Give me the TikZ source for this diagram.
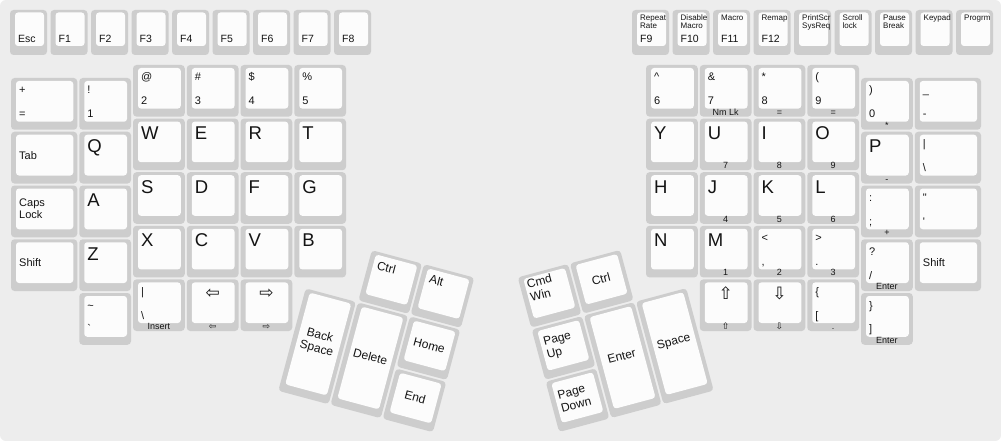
\documentclass[tikz,border=0pt]{standalone}
\usepackage{fontspec}
\setmainfont{Liberation Sans}
\newfontfamily\symf{DejaVu Sans}
\definecolor{bgc}{RGB}{237,237,237}
\definecolor{kg}{RGB}{205,205,205}
\definecolor{kw}{RGB}{252,252,252}
\definecolor{tx}{RGB}{20,20,20}
\newcounter{nc}
\newcommand\nn{\stepcounter{nc}}
% key cap: x y w h
\newcommand\K[4]{%
  \fill[keyg] (#1+1,#2+1) rectangle (#1+#3-1,#2+#4-1);
  \fill[keyw] (#1+6,#2+4) rectangle (#1+#3-5,#2+#4-9);}
% big letter
\newcommand\LB[3]{\nn\node[big,anchor=base west] (t\arabic{nc}) at (#1+9,#2+22) {#3};}
% two small labels: x y h upper lower
\newcommand\LT[5]{\nn\node[sm,anchor=base west] (t\arabic{nc}) at (#1+9,#2+17) {#4};
  \nn\node[sm,anchor=base west] (t\arabic{nc}) at (#1+9,#2+#3-13) {#5};}
% middle label: x y h text
\newcommand\LM[4]{\nn\node[sm,anchor=west,align=left] (t\arabic{nc}) at (#1+9,#2+#3/2-2.5) {#4};}
% sub label: x y w h text
\newcommand\LS[5]{\nn\node[sub,anchor=base] (t\arabic{nc}) at (#1+#3/2,#2+#4-2.5) {#5};}
% arrow glyph on top centre: x y w text
\newcommand\LA[4]{\nn\node[arr] (t\arabic{nc}) at (#1+#3/2,#2+15) {#4};}
% function key
\newcommand\F[1]{\fill[keyg] (#1,10) rectangle (#1+37,55);
  \fill[keyw] (#1+5,12.5) rectangle (#1+34,46);}
\newcommand\FL[2]{\nn\node[fn,anchor=base west] (t\arabic{nc}) at (#1+8,42.5) {#2};}
\newcommand\FS[2]{\nn\node[fs,anchor=north west,align=left] (t\arabic{nc}) at (#1+8,15) {#2};}
\begin{document}
\begin{tikzpicture}[x=1pt,y=-1pt,
  keyg/.style={fill=kg,rounded corners=3.5pt},
  keyw/.style={fill=kw,rounded corners=3pt},
  every node/.style={inner sep=0pt,text=tx},
  big/.style={font=\fontsize{18.5}{20}\selectfont},
  sm/.style={font=\fontsize{11}{11.5}\selectfont},
  fn/.style={font=\fontsize{10.5}{11}\selectfont},
  fs/.style={font=\fontsize{8}{8}\selectfont},
  sub/.style={font=\fontsize{9}{9}\selectfont},
  th/.style={font=\fontsize{12}{13.5}\selectfont},
  arr/.style={font=\symf\fontsize{17}{17}\selectfont}]
\useasboundingbox (0,0) rectangle (1001,441);
\fill[white] (0,0) rectangle (1001,441);
\fill[bgc,rounded corners=6pt] (0,0) rectangle (1001,441);
% ---------- function rows
\F{10}\FL{10}{Esc}
\F{50.5}\FL{50.5}{F1}
\F{91}\FL{91}{F2}
\F{131.5}\FL{131.5}{F3}
\F{172}\FL{172}{F4}
\F{212.5}\FL{212.5}{F5}
\F{253}\FL{253}{F6}
\F{293.5}\FL{293.5}{F7}
\F{334}\FL{334}{F8}
\F{632}\FS{632}{Repeat\\Rate}\FL{632}{F9}
\F{672.5}\FS{672.5}{Disable\\Macro}\FL{672.5}{F10}
\F{713}\FS{713}{Macro}\FL{713}{F11}
\F{753.5}\FS{753.5}{Remap}\FL{753.5}{F12}
\F{794}\FS{794}{PrintScr\\SysReq}
\F{834.5}\FS{834.5}{Scroll\\lock}
\F{875}\FS{875}{Pause\\Break}
\F{915.5}\FS{915.5}{Keypad}
\F{956}\FS{956}{Progrm}
% ---------- left main
\K{10}{77}{68.25}{53.75}\LT{10}{77}{53.75}{+}{=}
\K{10}{130.75}{68.25}{53.75}\LM{10}{130.75}{53.75}{Tab}
\K{10}{184.5}{68.25}{53.75}\LM{10}{184.5}{53.75}{Caps\\Lock}
\K{10}{238.25}{68.25}{53.75}\LM{10}{238.25}{53.75}{Shift}
\K{78.25}{77}{53.75}{53.75}\LT{78.25}{77}{53.75}{!}{1}
\K{78.25}{130.75}{53.75}{53.75}\LB{78.25}{130.75}{Q}
\K{78.25}{184.5}{53.75}{53.75}\LB{78.25}{184.5}{A}
\K{78.25}{238.25}{53.75}{53.75}\LB{78.25}{238.25}{Z}
\K{78.25}{292}{53.75}{53.75}\LT{78.25}{292}{53.75}{\textasciitilde}{\textasciigrave}
% cols 2-5
\K{132}{64}{53.75}{53.6}\LT{132}{64}{53.6}{@}{2}
\K{185.75}{64}{53.75}{53.6}\LT{185.75}{64}{53.6}{\#}{3}
\K{239.5}{64}{53.75}{53.6}\LT{239.5}{64}{53.6}{\$}{4}
\K{293.25}{64}{53.75}{53.6}\LT{293.25}{64}{53.6}{\%}{5}
\K{132}{117.6}{53.75}{53.6}\LB{132}{117.6}{W}
\K{185.75}{117.6}{53.75}{53.6}\LB{185.75}{117.6}{E}
\K{239.5}{117.6}{53.75}{53.6}\LB{239.5}{117.6}{R}
\K{293.25}{117.6}{53.75}{53.6}\LB{293.25}{117.6}{T}
\K{132}{171.2}{53.75}{53.6}\LB{132}{171.2}{S}
\K{185.75}{171.2}{53.75}{53.6}\LB{185.75}{171.2}{D}
\K{239.5}{171.2}{53.75}{53.6}\LB{239.5}{171.2}{F}
\K{293.25}{171.2}{53.75}{53.6}\LB{293.25}{171.2}{G}
\K{132}{224.8}{53.75}{53.6}\LB{132}{224.8}{X}
\K{185.75}{224.8}{53.75}{53.6}\LB{185.75}{224.8}{C}
\K{239.5}{224.8}{53.75}{53.6}\LB{239.5}{224.8}{V}
\K{293.25}{224.8}{53.75}{53.6}\LB{293.25}{224.8}{B}
\K{132}{278.4}{53.75}{53.6}\LT{132}{278.4}{53.6}{\textbar}{\textbackslash}\LS{132}{278.4}{53.75}{53.6}{Insert}
\K{185.75}{278.4}{53.75}{53.6}\LA{185.75}{278.4}{53.75}{⇦}\LS{185.75}{278.4}{53.75}{53.6}{\symf\fontsize{9}{9}\selectfont ⇦}
\K{239.5}{278.4}{53.75}{53.6}\LA{239.5}{278.4}{53.75}{⇨}\LS{239.5}{278.4}{53.75}{53.6}{\symf\fontsize{9}{9}\selectfont ⇨}
% ---------- right main
\K{645}{64}{53.75}{53.6}\LT{645}{64}{53.6}{\textasciicircum}{6}
\K{698.75}{64}{53.75}{53.6}\LT{698.75}{64}{53.6}{\&}{7}\LS{698.75}{64}{53.75}{53.6}{Nm Lk}
\K{752.5}{64}{53.75}{53.6}\LT{752.5}{64}{53.6}{*}{8}\LS{752.5}{64}{53.75}{53.6}{=}
\K{806.25}{64}{53.75}{53.6}\LT{806.25}{64}{53.6}{(}{9}\LS{806.25}{64}{53.75}{53.6}{=}
\K{645}{117.6}{53.75}{53.6}\LB{645}{117.6}{Y}
\K{698.75}{117.6}{53.75}{53.6}\LB{698.75}{117.6}{U}\LS{698.75}{117.6}{53.75}{53.6}{7}
\K{752.5}{117.6}{53.75}{53.6}\LB{752.5}{117.6}{I}\LS{752.5}{117.6}{53.75}{53.6}{8}
\K{806.25}{117.6}{53.75}{53.6}\LB{806.25}{117.6}{O}\LS{806.25}{117.6}{53.75}{53.6}{9}
\K{645}{171.2}{53.75}{53.6}\LB{645}{171.2}{H}
\K{698.75}{171.2}{53.75}{53.6}\LB{698.75}{171.2}{J}\LS{698.75}{171.2}{53.75}{53.6}{4}
\K{752.5}{171.2}{53.75}{53.6}\LB{752.5}{171.2}{K}\LS{752.5}{171.2}{53.75}{53.6}{5}
\K{806.25}{171.2}{53.75}{53.6}\LB{806.25}{171.2}{L}\LS{806.25}{171.2}{53.75}{53.6}{6}
\K{645}{224.8}{53.75}{53.6}\LB{645}{224.8}{N}
\K{698.75}{224.8}{53.75}{53.6}\LB{698.75}{224.8}{M}\LS{698.75}{224.8}{53.75}{53.6}{1}
\K{752.5}{224.8}{53.75}{53.6}\LT{752.5}{224.8}{53.6}{\textless}{,}\LS{752.5}{224.8}{53.75}{53.6}{2}
\K{806.25}{224.8}{53.75}{53.6}\LT{806.25}{224.8}{53.6}{\textgreater}{.}\LS{806.25}{224.8}{53.75}{53.6}{3}
\K{698.75}{278.4}{53.75}{53.6}\LA{698.75}{278.4}{53.75}{⇧}\LS{698.75}{278.4}{53.75}{53.6}{\symf\fontsize{9}{9}\selectfont ⇧}
\K{752.5}{278.4}{53.75}{53.6}\LA{752.5}{278.4}{53.75}{⇩}\LS{752.5}{278.4}{53.75}{53.6}{\symf\fontsize{9}{9}\selectfont ⇩}
\K{806.25}{278.4}{53.75}{53.6}\LT{806.25}{278.4}{53.6}{\{}{[}\LS{806.25}{278.4}{53.75}{53.6}{.}
% cols 10-11
\K{860}{77}{53.75}{53.75}\LT{860}{77}{53.75}{)}{0}\LS{860}{77}{53.75}{53.75}{*}
\K{860}{130.75}{53.75}{53.75}\LB{860}{130.75}{P}\LS{860}{130.75}{53.75}{53.75}{-}
\K{860}{184.5}{53.75}{53.75}\LT{860}{184.5}{53.75}{:}{;}\LS{860}{184.5}{53.75}{53.75}{+}
\K{860}{238.25}{53.75}{53.75}\LT{860}{238.25}{53.75}{?}{/}\LS{860}{238.25}{53.75}{53.75}{Enter}
\K{860}{292}{53.75}{53.75}\LT{860}{292}{53.75}{\}}{]}\LS{860}{292}{53.75}{53.75}{Enter}
\K{913.75}{77}{68.25}{53.75}\LT{913.75}{77}{53.75}{\_}{-}
\K{913.75}{130.75}{68.25}{53.75}\LT{913.75}{130.75}{53.75}{\textbar}{\textbackslash}
\K{913.75}{184.5}{68.25}{53.75}\LT{913.75}{184.5}{53.75}{\textquotedbl}{\textquotesingle}
\K{913.75}{238.25}{68.25}{53.75}\LM{913.75}{238.25}{53.75}{Shift}
% ---------- left thumb cluster
\begin{scope}[shift={(319,235)},rotate=-15]
\K{54}{0}{54}{54}\node[th,rotate=-15,anchor=base west] (lctrl) at (64,18) {Ctrl};
\K{108}{0}{54}{54}\node[th,rotate=-15,anchor=base west] (lalt) at (118,18) {Alt};
\K{0}{54}{54}{108}\node[th,rotate=-15,align=center] (lbs) at (27,104) {Back\\Space};
\K{54}{54}{54}{108}\node[th,rotate=-15] (ldel) at (81,104) {Delete};
\K{108}{54}{54}{54}\node[th,rotate=-15] (lhome) at (135,78) {Home};
\K{108}{108}{54}{54}\node[th,rotate=-15] (lend) at (135,132) {End};
\end{scope}
% ---------- right thumb cluster
\begin{scope}[shift={(516.5,276.7)},rotate=15]
\K{0}{0}{54}{54}\node[th,rotate=15,anchor=west,align=left] (rcmd) at (8,17) {Cmd\\Win};
\K{54}{0}{54}{54}\node[th,rotate=15] (rctrl) at (81,24) {Ctrl};
\K{0}{54}{54}{54}\node[th,rotate=15,anchor=west,align=left] (rpgup) at (9,78) {Page\\Up};
\K{0}{108}{54}{54}\node[th,rotate=15,anchor=west,align=left] (rpgdn) at (9,132) {Page\\Down};
\K{54}{54}{54}{108}\node[th,rotate=15] (rent) at (81,104) {Enter};
\K{108}{54}{54}{108}\node[th,rotate=15] (rspc) at (135,104) {Space};
\end{scope}
\end{tikzpicture}
\end{document}
